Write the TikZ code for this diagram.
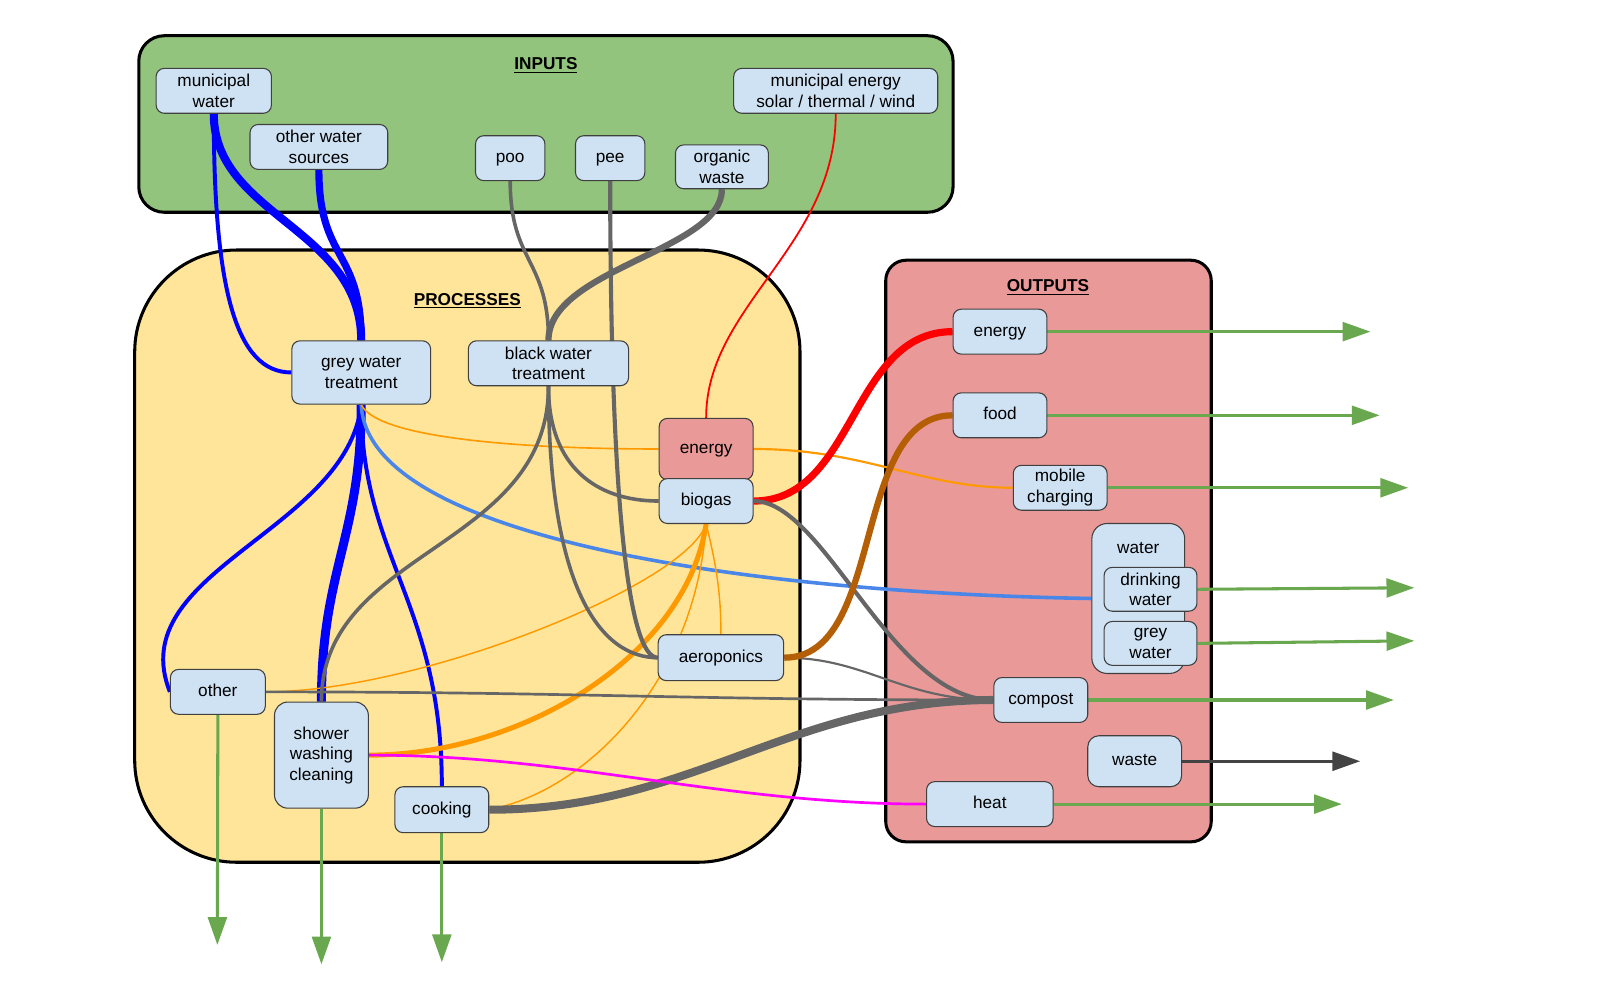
\documentclass[tikz,border=0pt]{standalone}
\usepackage{fontspec}
\setmainfont{Liberation Sans}
\usetikzlibrary{arrows.meta}

\definecolor{ingreen}{HTML}{93C47D}
\definecolor{procyellow}{HTML}{FFE599}
\definecolor{outpink}{HTML}{EA9999}
\definecolor{boxblue}{HTML}{CFE2F3}
\definecolor{flowgreen}{HTML}{6AA84F}
\definecolor{waterblue}{HTML}{0000FF}
\definecolor{lightwater}{HTML}{4A86E8}
\definecolor{heatorange}{HTML}{FF9900}
\definecolor{sludgegrey}{HTML}{666666}
\definecolor{foodbrown}{HTML}{B45F06}
\definecolor{hotpink}{HTML}{FF00FF}
\definecolor{wastegrey}{HTML}{434343}

\pgfdeclarelayer{areas}
\pgfdeclarelayer{wires}
\pgfsetlayers{areas,wires,main}

\begin{document}
\begin{tikzpicture}[x=0.02cm, y=-0.02cm, every node/.style={font=\fontsize{9.6}{11.4}\selectfont},
    item/.style={draw=black!75, line width=0.6pt, rounded corners=0.16cm, fill=boxblue, align=center, inner sep=0pt},
    oneline/.style={text height=6.9pt, text depth=1.9pt},
    area/.style={draw=black, line width=1.7pt},
    heading/.style={font=\fontsize{9.6}{11.4}\selectfont\bfseries},
    outflow/.style={draw=flowgreen, line width=1.7pt, -{Triangle[length=15.5pt,width=10.5pt]}}]
        \useasboundingbox (0,0) rectangle (1568,971);

        % Areas
        \begin{pgfonlayer}{areas}
        \draw[area, fill=ingreen, rounded corners=0.5cm] (136,35) rectangle (934,208);
        \draw[area, fill=procyellow, rounded corners=2cm] (132,245) rectangle (784,845);
        \draw[area, fill=outpink, rounded corners=0.4cm] (868,255) rectangle (1187,825);
        \end{pgfonlayer}
        \node[heading] (inTitle) at (535,64) {\underline{INPUTS}};
        \node[heading] (procTitle) at (458,295) {\underline{PROCESSES}};
        \node[heading] (outTitle) at (1027,282) {\underline{OUTPUTS}};

        % Inputs
        \node[item, minimum width=2.26cm, minimum height=0.88cm] (mw) at (209.5,89) {municipal\\water};
        \node[item, minimum width=2.7cm, minimum height=0.88cm] (ows) at (312.5,144) {other water\\sources};
        \node[item, oneline, minimum width=1.36cm, minimum height=0.88cm] (poo) at (500,155) {poo};
        \node[item, oneline, minimum width=1.36cm, minimum height=0.88cm] (pee) at (598,155) {pee};
        \node[item, minimum width=1.82cm, minimum height=0.86cm] (org) at (707.5,163.5) {organic\\waste};
        \node[item, minimum width=4.0cm, minimum height=0.88cm] (men) at (819,89) {municipal energy\\solar / thermal / wind};

        % Processes
        \node[item, minimum width=2.72cm, minimum height=1.24cm] (gwt) at (354,365) {grey water\\treatment};
        \node[item, minimum width=3.14cm, minimum height=0.88cm] (bwt) at (537.5,356) {black water\\treatment};
        \node[item, oneline, fill=outpink, minimum width=1.84cm, minimum height=1.2cm] (en) at (692,440) {energy};
        \node[item, oneline, minimum width=1.84cm, minimum height=0.88cm] (bio) at (692,491) {biogas};
        \node[item, oneline, minimum width=2.46cm, minimum height=0.9cm] (aero) at (706.5,644.5) {aeroponics};
        \node[item, oneline, minimum width=1.86cm, minimum height=0.88cm] (oth) at (213.5,678) {other};
        \node[item, rounded corners=0.26cm, minimum width=1.84cm, minimum height=2.08cm] (sh) at (315,740) {shower\\washing\\cleaning};
        \node[item, oneline, minimum width=1.84cm, minimum height=0.9cm] (cook) at (433,793.5) {cooking};

        % Outputs
        \node[item, oneline, minimum width=1.84cm, minimum height=0.88cm] (oen) at (980,325) {energy};
        \node[item, oneline, minimum width=1.84cm, minimum height=0.88cm] (food) at (980,407) {food};
        \node[item, minimum width=1.84cm, minimum height=0.88cm] (mob) at (1039,478) {mobile\\charging};
        \node[item, rounded corners=0.3cm, minimum width=1.82cm, minimum height=2.94cm,
            label={[anchor=center, yshift=-0.5cm]north:water}] (wat) at (1115.5,586.5) {};
        \node[item, minimum width=1.82cm, minimum height=0.86cm] (dw) at (1127.5,577.5) {drinking\\water};
        \node[item, minimum width=1.82cm, minimum height=0.86cm] (gw) at (1127.5,630.5) {grey\\water};
        \node[item, oneline, minimum width=1.84cm, minimum height=0.88cm] (comp) at (1020,686) {compost};
        \node[item, oneline, rounded corners=0.22cm, minimum width=1.84cm, minimum height=1.0cm] (waste) at (1112,746) {waste};
        \node[item, oneline, minimum width=2.48cm, minimum height=0.88cm] (heat) at (970,788) {heat};

        % Free ends
        \coordinate (oenEnd) at (1343,325);
        \coordinate (foodEnd) at (1352,407);
        \coordinate (mobEnd) at (1380,478);
        \coordinate (dwEnd) at (1386,576);
        \coordinate (gwEnd) at (1386,628);
        \coordinate (compEnd) at (1366,686);
        \coordinate (wasteEnd) at (1333,746);
        \coordinate (heatEnd) at (1315,788);
        \coordinate (othEnd) at (213,926);
        \coordinate (shEnd) at (315,945);
        \coordinate (cookEnd) at (433,943);

        \begin{pgfonlayer}{wires}
        % Water
        \draw[waterblue, line width=2.2pt] (mw.south) .. controls +(0,170) and +(-55,0) .. (gwt.west);
        \draw[waterblue, line width=4.5pt] (mw.south) .. controls +(0,100) and +(0,-110) .. (gwt.north);
        \draw[waterblue, line width=4pt] (ows.south) .. controls +(0,90) and +(0,-90) .. (gwt.north);
        \draw[waterblue, line width=2.2pt] (gwt.south) .. controls +(-14,124) and +(-47,-118) .. (oth.west);
        \draw[waterblue, line width=5pt] (gwt.south) .. controls +(0,130) and +(0,-130) .. (sh.north);
        \draw[waterblue, line width=2.2pt] (gwt.south) .. controls +(0,150) and +(0,-180) .. (cook.north);
        \draw[lightwater, line width=2pt] (gwt.south) .. controls +(6,134) and +(-320,-5) .. (wat.west);

        % Heat and energy
        \draw[heatorange, line width=0.9pt] (gwt.south) .. controls +(16,34) and +(-126,0) .. (en.west);
        \draw[heatorange, line width=1.2pt] (en.east) .. controls +(110,0) and +(-90,0) .. (mob.west);
        \draw[heatorange, line width=0.8pt] (bwt.south) .. controls +(0,80) and +(-60,0) .. (bio.west);
        \draw[heatorange, line width=0.8pt] (bio.south) .. controls +(-20,60) and +(150,0) .. (oth.east);
        \draw[heatorange, line width=2.8pt] (bio.south) .. controls +(-20,130) and +(150,0) .. (sh.east);
        \draw[heatorange, line width=0.8pt] (bio.south) .. controls +(-10,150) and +(100,-20) .. (cook.east);
        \draw[heatorange, line width=0.8pt] (bio.south) .. controls +(10,40) and +(0,-40) .. (aero.north);
        \draw[red, line width=1pt] (men.south) .. controls +(0,130) and +(0,-110) .. (en.north);
        \draw[red, line width=4pt] (bio.east) .. controls +(100,0) and +(-100,0) .. (oen.west);

        % Solids
        \draw[sludgegrey, line width=2pt] (poo.south) .. controls +(0,80) and +(0,-80) .. (bwt.north);
        \draw[sludgegrey, line width=2.3pt] (pee.south) .. controls +(0,300) and +(-30,0) .. (aero.west);
        \draw[sludgegrey, line width=3.5pt] (org.south) .. controls +(0,60) and +(0,-70) .. (bwt.north);
        \draw[sludgegrey, line width=2pt] (bwt.south) .. controls +(0,80) and +(-60,0) .. (bio.west);
        \draw[sludgegrey, line width=2pt] (bwt.south) .. controls +(0,200) and +(-55,0) .. (aero.west);
        \draw[sludgegrey, line width=2pt] (bwt.south) .. controls +(0,160) and +(0,-150) .. (sh.north);
        \draw[sludgegrey, line width=2.3pt] (bio.east) .. controls +(70,0) and +(-100,0) .. (comp.west);
        \draw[sludgegrey, line width=1.2pt] (aero.east) .. controls +(80,0) and +(-90,0) .. (comp.west);
        \draw[sludgegrey, line width=1.5pt] (oth.east) .. controls +(300,0) and +(-300,0) .. (comp.west);
        \draw[sludgegrey, line width=4.5pt] (cook.east) .. controls +(200,0) and +(-200,0) .. (comp.west);
        \draw[foodbrown, line width=3.5pt] (aero.east) .. controls +(100,0) and +(-100,0) .. (food.west);
        \draw[hotpink, line width=1.5pt] (sh.east) .. controls +(200,0) and +(-200,0) .. (heat.west);

        % Out
        \draw[outflow] (oen.east) -- (oenEnd);
        \draw[outflow] (food.east) -- (foodEnd);
        \draw[outflow] (mob.east) -- (mobEnd);
        \draw[outflow] (dw.east) -- (dwEnd);
        \draw[outflow] (gw.east) -- (gwEnd);
        \draw[outflow] (comp.east) -- (compEnd);
        \draw[outflow, draw=wastegrey] (waste.east) -- (wasteEnd);
        \draw[outflow] (heat.east) -- (heatEnd);
        \draw[outflow] (oth.south) -- (othEnd);
        \draw[outflow] (sh.south) -- (shEnd);
        \draw[outflow] (cook.south) -- (cookEnd);
        \end{pgfonlayer}
      \end{tikzpicture}
\end{document}
